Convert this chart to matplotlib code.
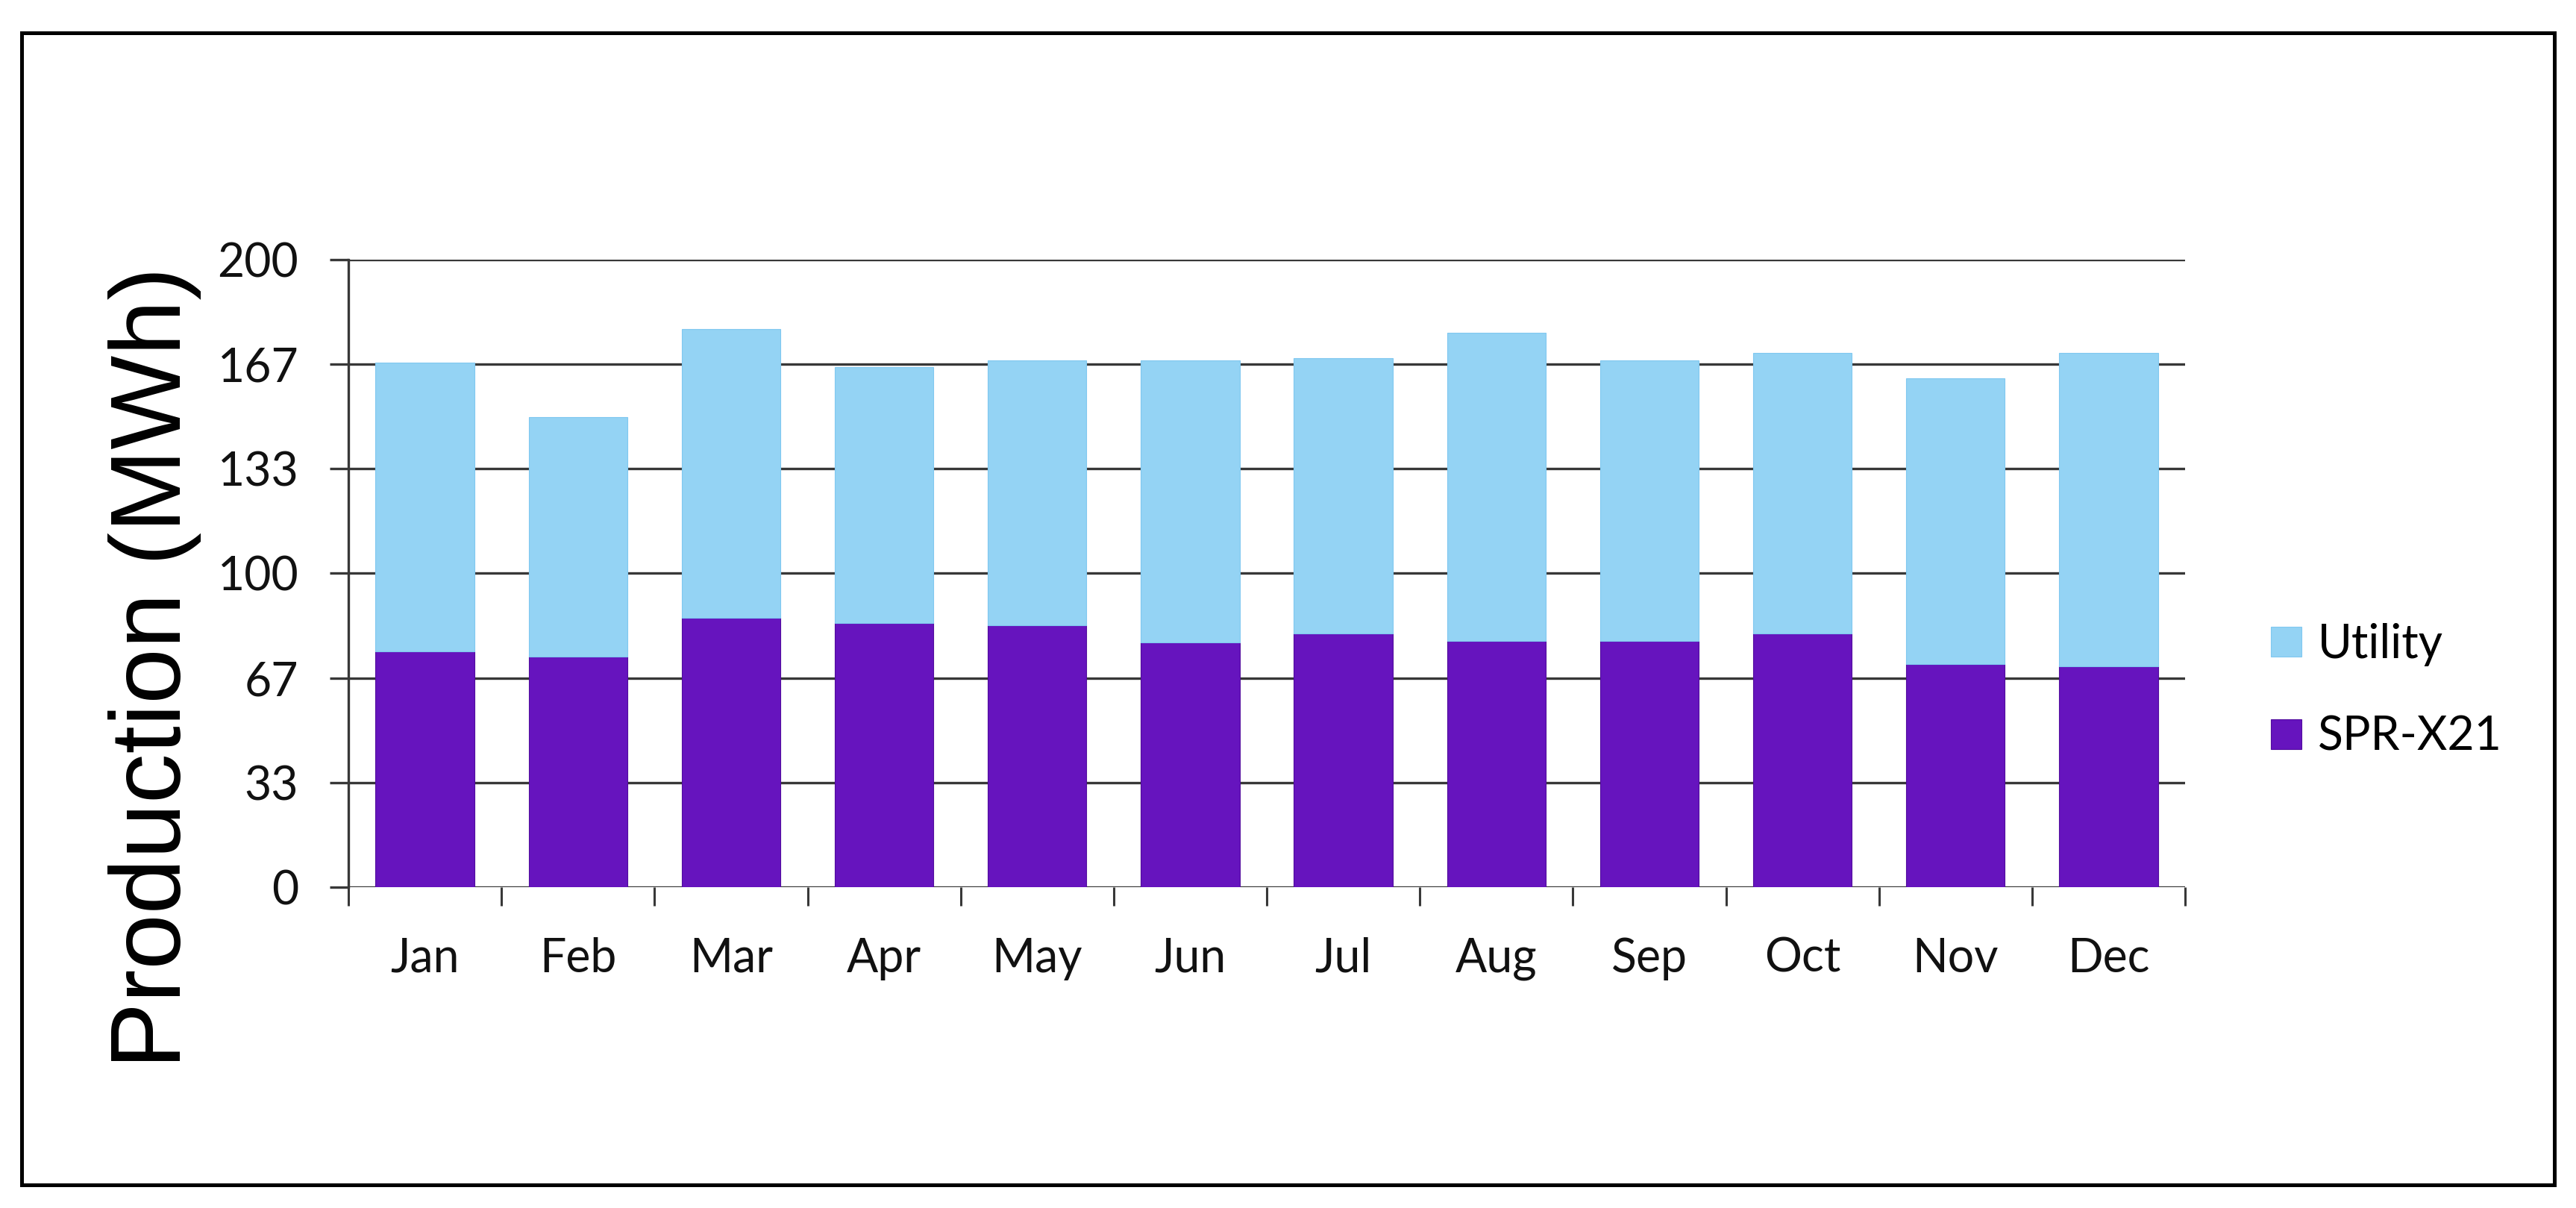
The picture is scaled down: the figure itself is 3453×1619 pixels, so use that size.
import numpy as np
import matplotlib
matplotlib.use("Agg")
import matplotlib.pyplot as plt
from matplotlib.patches import Rectangle

# Monthly production (MWh)
MONTHS = ["Jan", "Feb", "Mar", "Apr", "May", "Jun", "Jul", "Aug", "Sep", "Oct", "Nov", "Dec"]
SPR_X21 = [75.2, 73.6, 85.8, 84.3, 83.5, 77.9, 80.9, 78.4, 78.5, 80.9, 71.2, 70.3]
UTILITY = [92.0, 76.2, 92.0, 81.5, 84.3, 89.9, 87.8, 98.4, 89.3, 89.4, 90.9, 100.0]
YTICKS = [0, 200 / 6, 400 / 6, 100, 800 / 6, 1000 / 6, 200]
YTICK_LABELS = ["0", "33", "67", "100", "133", "167", "200"]

C_SPR = "#6614be"
C_UTIL = "#94d3f4"
GRID_C = "#383838"

W, H = 3453, 1619
fig = plt.figure(figsize=(W / 100, H / 100), dpi=100)
fig.patch.set_facecolor("white")

ax = fig.add_axes([467 / W, 1 - 1189 / H, (2929 - 467) / W, (1189 - 348) / H])

x = np.arange(len(MONTHS))
b1 = ax.bar(x, SPR_X21, 0.645, color=C_SPR, edgecolor="#520c9e", linewidth=0.8, zorder=3, label="SPR-X21")
b2 = ax.bar(x, UTILITY, 0.645, bottom=SPR_X21, color=C_UTIL, edgecolor="#80c8f0", linewidth=0.8, zorder=3,
            label="Utility")

ax.set_xlim(-0.5, len(MONTHS) - 0.5)
ax.set_ylim(0, 200)
ax.set_yticks(YTICKS)
ax.set_yticklabels(YTICK_LABELS)
ax.yaxis.grid(True, color=GRID_C, linewidth=2.4)
ax.set_axisbelow(True)

# category ticks between bars, labels centered on bars
ax.set_xticks(np.arange(-0.5, len(MONTHS), 1))
ax.set_xticklabels([])
ax.set_xticks(x, minor=True)
ax.set_xticklabels(MONTHS, minor=True)
ax.tick_params(axis="x", which="major", length=18, width=2.2, color=GRID_C, direction="out")
ax.tick_params(axis="x", which="minor", length=0, pad=48, labelsize=45)
ax.tick_params(axis="y", length=18, width=2.4, color=GRID_C, pad=30, labelsize=45)
for lab in ax.get_xticklabels(minor=True) + ax.get_yticklabels():
    lab.set_family("Lato")
    lab.set_color("#111111")

for s in ["top", "right", "bottom"]:
    ax.spines[s].set_visible(False)
ax.spines["left"].set_color(GRID_C)
ax.spines["left"].set_linewidth(2.4)

fig.text(207 / W, 1 - 895 / H, "Production (MWh)", rotation=90, ha="center", va="center",
         fontsize=96, family="Liberation Sans", color="black")

leg = fig.legend([b2, b1], ["Utility", "SPR-X21"], loc="center left",
                 bbox_to_anchor=(3044 / W, 1 - 926 / H), frameon=False,
                 prop={"family": "Lato", "size": 45}, handlelength=0.66, handleheight=0.62,
                 handletextpad=0.35, labelspacing=1.05, borderpad=0, borderaxespad=0)

# outer frame
fig.patches.append(Rectangle((29 / W, 1 - 1588 / H), (3424 - 29) / W, (1588 - 44) / H,
                             transform=fig.transFigure, fill=False, edgecolor="black", linewidth=3.6))

fig.savefig("out.png", dpi=100)
